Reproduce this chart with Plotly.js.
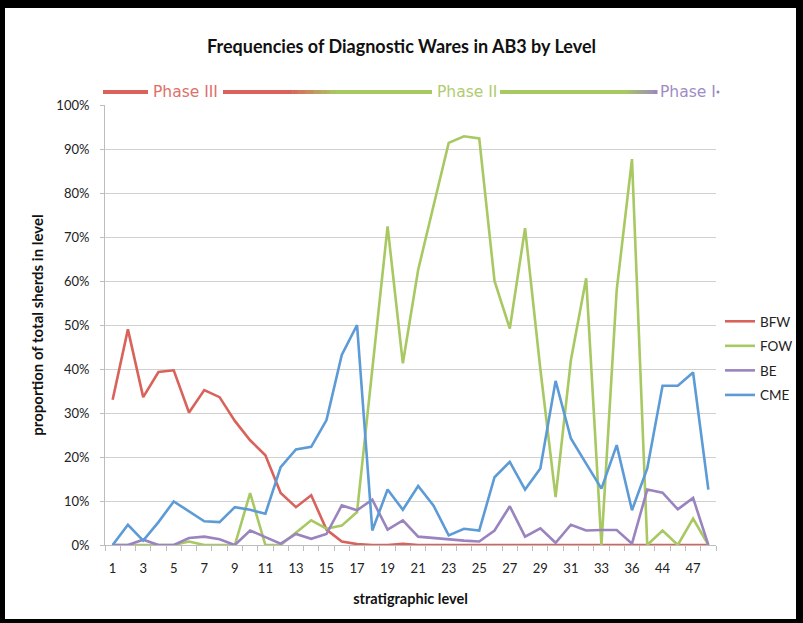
<!DOCTYPE html>
<html>
<head>
<meta charset="utf-8">
<script src="https://cdn.plot.ly/plotly-3.0.1.min.js"></script>
<style>
  html, body { margin: 0; padding: 0; background: #ffffff; }
  #chart { position: absolute; left: 0; top: 0; width: 803px; height: 623px; }
  .frame { position: absolute; background: #000; pointer-events: none; z-index: 10; }
</style>
</head>
<body>
<div id="chart"></div>
<div class="frame" style="left:0;top:0;width:803px;height:8px;"></div>
<div class="frame" style="left:0;top:0;width:5px;height:623px;"></div>
<div class="frame" style="left:796px;top:0;width:7px;height:623px;"></div>
<div class="frame" style="left:0;top:619px;width:803px;height:4px;"></div>
<script>
// ---- data (percent of total sherds in level) ----
const levels = ["1","2","3","4","5","6","7","8","9","10","11","12","13","14","15","16","17","18","19","20",
                "21","22","23","24","25","26","27","28","29","30","31","32","33","34","36","40","44","46","47","48"];
// tick labels shown on the axis (every other level)
const tickLabels = ["1","","3","","5","","7","","9","","11","","13","","15","","17","","19","",
                    "21","","23","","25","","27","","29","","31","","33","","36","","44","","47",""];
const bfw = [33,49,33.6,39.3,39.7,30.1,35.2,33.6,28.2,23.8,20.4,11.8,8.6,11.3,3.5,0.8,0.2,0,0,0.3,
             0,0,0,0,0,0,0,0,0,0,0,0,0,0,0,0,0,0,0,0];
const fow = [0,0,0,0,0,0.8,0,0,0,11.8,0,0,2.9,5.6,3.7,4.4,7.5,40.5,72.4,41.3,
             62.5,77,91.4,92.9,92.4,60,49.2,72,40,10.9,42,60.6,0,58,87.7,0,3.3,0,6,0];
const be  = [0,0,1.2,0,0,1.6,1.9,1.3,0,3.3,1.8,0.3,2.5,1.4,2.5,9,7.9,10.3,3.5,5.6,
             1.9,1.6,1.2,1.0,0.8,3.3,8.8,1.9,3.8,0.5,4.6,3.3,3.4,3.4,0.3,12.6,11.9,8.1,10.7,0];
const cme = [0,4.6,1,5.2,9.9,7.6,5.4,5.2,8.6,8,7.1,17.7,21.7,22.3,28.4,43.2,50,3.3,12.6,8,
             13.4,9,2.2,3.7,3.3,15.4,18.9,12.6,17.4,37.3,24.2,18.5,12.8,22.7,7.9,17.4,36.2,36.2,39.2,12.6];
const seriesNames = ["BFW","FOW","BE","CME"];
const phaseLabels = ["Phase III","Phase II","Phase I"];
const yTicks = [0,10,20,30,40,50,60,70,80,90,100];
const yTickLabels = ["0%","10%","20%","30%","40%","50%","60%","70%","80%","90%","100%"];

// ---- styles ----
const colors = ["#d9625b","#a8c862","#9a84bf","#5c9bd6"];
const RED = [217,98,91], GREEN = [168,200,98], PURPLE = [154,132,191];
const L = 105, R = 87, T = 105, B = 78, W = 803, H = 623;
const PW = W - L - R, PH = H - T - B;
const px = v => (v - L) / PW;
const py = v => (H - B - v) / PH;

const traces = [bfw, fow, be, cme].map((ys, i) => ({
  type: "scatter", mode: "lines", x: levels, y: ys, name: seriesNames[i],
  legendgroup: seriesNames[i],
  line: { color: colors[i], width: 2.6 }, hoverinfo: "skip"
}));

// phase bar shapes
const shapes = [];
const phaseY = py(92);
function seg(x0, x1, c, w) {
  shapes.push({ type: "line", xref: "paper", yref: "paper", x0: px(x0), x1: px(x1), y0: phaseY, y1: phaseY,
    line: { color: "rgb(" + c.join(",") + ")", width: w || 4 } });
}
function grad(x0, x1, c0, c1, n) {
  for (let k = 0; k < n; k++) {
    const t = (k + 0.5) / n;
    const c = c0.map((v, j) => Math.round(v + (c1[j] - v) * t));
    seg(x0 + (x1 - x0) * k / n, x0 + (x1 - x0) * (k + 1) / n + 0.5, c);
  }
}
seg(103, 148, RED);
seg(223, 290, RED);
grad(290, 336, RED, GREEN, 20);
seg(336, 432, GREEN);
seg(500, 626, GREEN);
grad(626, 657, GREEN, PURPLE, 16);
shapes.push({ type: "circle", xref: "paper", yref: "paper",
  x0: px(716.5), x1: px(719.5), y0: py(93.5), y1: py(90.5),
  fillcolor: "rgb(154,132,191)", line: { width: 0 } });

const phaseFont = { family: "DejaVu Sans, Verdana, sans-serif", size: 15.5 };
const annotations = [
  { text: phaseLabels[0], x: px(185.5), col: [222,112,106] },
  { text: phaseLabels[1], x: px(466.5), col: [176,204,112] },
  { text: phaseLabels[2], x: px(688), col: [160,140,196] }
].map(a => ({
  text: a.text, xref: "paper", yref: "paper", x: a.x, y: phaseY, showarrow: false,
  xanchor: "center", yanchor: "middle",
  font: Object.assign({}, phaseFont, { color: "rgb(" + a.col.join(",") + ")" })
}));

const baseFont = "Lato, 'Open Sans', sans-serif";
const layout = {
  width: W, height: H,
  margin: { l: L, r: R, t: T, b: B, autoexpand: false },
  paper_bgcolor: "#ffffff", plot_bgcolor: "#ffffff",
  font: { family: baseFont, size: 12, color: "#222" },
  title: { text: "<b>Frequencies of Diagnostic Wares in AB3 by Level</b>",
           x: 0.5, xref: "container", xanchor: "center", y: 1 - 47 / H, yanchor: "middle",
           font: { family: baseFont, size: 18, color: "#111" } },
  xaxis: {
    type: "category", categoryorder: "array", categoryarray: levels,
    tickmode: "array", tickvals: levels, ticktext: tickLabels, tickangle: 0,
    tickson: "boundaries", ticks: "outside", ticklen: 5, tickcolor: "#bdbdbd", tickwidth: 1,
    showline: true, linecolor: "#bdbdbd", linewidth: 1,
    showgrid: false, zeroline: false, range: [-0.5, levels.length - 0.5],
    tickfont: { family: baseFont, size: 13, color: "#222" }, ticklabelstandoff: 11,
    title: { text: "<b>stratigraphic level</b>", standoff: 19,
             font: { family: baseFont, size: 14.5, color: "#111" } }
  },
  yaxis: {
    range: [0, 100], tickmode: "array", tickvals: yTicks, ticktext: yTickLabels,
    ticks: "outside", ticklen: 4, tickcolor: "#bdbdbd",
    showline: true, linecolor: "#bdbdbd", linewidth: 1,
    showgrid: true, gridcolor: "#d0d0d0", gridwidth: 1, zeroline: false,
    tickfont: { family: baseFont, size: 13, color: "#222" }, ticklabelstandoff: 8,
    title: { text: "<b>proportion of total sherds in level</b>", standoff: 9,
             font: { family: baseFont, size: 15, color: "#111" } }
  },
  legend: {
    x: px(720), xanchor: "left", y: py(306), yanchor: "top",
    font: { family: baseFont, size: 13.5, color: "#222" },
    tracegroupgap: 4, itemwidth: 30, bgcolor: "rgba(0,0,0,0)"
  },
  showlegend: true,
  shapes: shapes,
  annotations: annotations
};

Plotly.newPlot("chart", traces, layout, { displayModeBar: false, staticPlot: true });
</script>
</body>
</html>
